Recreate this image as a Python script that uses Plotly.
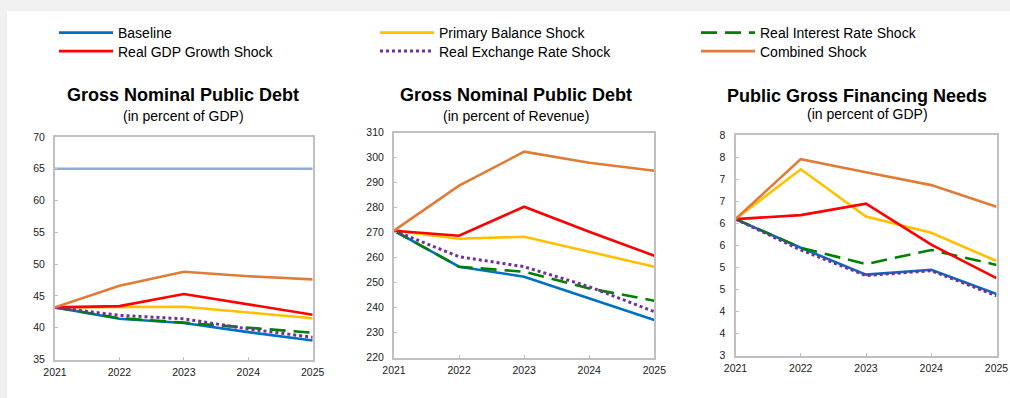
import plotly.graph_objects as go

years = [2021, 2022, 2023, 2024, 2025]

series_names = ["Baseline", "Primary Balance Shock", "Real Interest Rate Shock",
                "Real GDP Growth Shock", "Real Exchange Rate Shock", "Combined Shock"]

# Panel 1: Gross nominal public debt, percent of GDP
debt_gdp_baseline = [43.2, 41.4, 40.75, 39.3, 38.0]
debt_gdp_primary = [43.2, 43.2, 43.3, 42.4, 41.5]
debt_gdp_interest = [43.2, 41.5, 40.8, 40.0, 39.2]
debt_gdp_growth = [43.2, 43.4, 45.3, 43.7, 42.05]
debt_gdp_exchange = [43.2, 41.95, 41.4, 39.8, 38.5]
debt_gdp_combined = [43.2, 46.6, 48.8, 48.1, 47.6]
debt_gdp_benchmark = [65, 65, 65, 65, 65]

# Panel 2: Gross nominal public debt, percent of revenue
debt_rev_baseline = [270.8, 256.4, 252.4, 243.7, 235.1]
debt_rev_primary = [270.8, 267.6, 268.4, 262.4, 256.4]
debt_rev_interest = [270.8, 256.4, 254.4, 247.7, 242.8]
debt_rev_growth = [270.8, 268.8, 280.4, 270.4, 260.8]
debt_rev_exchange = [270.8, 260.4, 256.4, 248.4, 238.4]
debt_rev_combined = [270.8, 288.8, 302.4, 298.0, 294.8]

# Panel 3: Public gross financing needs, percent of GDP
gfn_baseline = [6.10, 5.45, 4.84, 4.95, 4.40]
gfn_primary = [6.10, 7.23, 6.16, 5.79, 5.15]
gfn_interest = [6.10, 5.45, 5.08, 5.40, 5.06]
gfn_growth = [6.10, 6.19, 6.45, 5.52, 4.76]
gfn_exchange = [6.10, 5.40, 4.82, 4.93, 4.36]
gfn_combined = [6.10, 7.46, 7.16, 6.87, 6.38]

gfn_tickvals = [3, 3.5, 4, 4.5, 5, 5.5, 6, 6.5, 7, 7.5, 8]
gfn_ticktext = ["3", "4", "4", "5", "5", "6", "6", "7", "7", "8", "8"]

panel_titles = ["Gross Nominal Public Debt", "Gross Nominal Public Debt", "Public Gross Financing Needs"]
panel_subtitles = ["(in percent of GDP)", "(in percent of Revenue)", "(in percent of GDP)"]

FONT = "Liberation Sans, Arial, sans-serif"

styles = {
    "Baseline": dict(color="#0070C0", dash="solid", width=2.6),
    "Primary Balance Shock": dict(color="#FFC000", dash="solid", width=2.6),
    "Real Interest Rate Shock": dict(color="#008000", dash="16px,8px", width=2.6),
    "Real GDP Growth Shock": dict(color="#FF0000", dash="solid", width=2.6),
    "Real Exchange Rate Shock": dict(color="#7030A0", dash="dot", width=3),
    "Combined Shock": dict(color="#E07C35", dash="solid", width=2.6),
}
# each legend entry sits in its own legend box so it can be placed exactly
legend_of = {
    "Baseline": "legend", "Real GDP Growth Shock": "legend2",
    "Primary Balance Shock": "legend3", "Real Exchange Rate Shock": "legend4",
    "Real Interest Rate Shock": "legend5", "Combined Shock": "legend6",
}
legend_xy = {
    "legend": (54, 17), "legend2": (54, 35.5),
    "legend3": (375, 17), "legend4": (375, 35.5),
    "legend5": (696, 17), "legend6": (696, 35.5),
}

panels = [
    ("x", "y", [debt_gdp_baseline, debt_gdp_primary, debt_gdp_interest, debt_gdp_growth, debt_gdp_exchange, debt_gdp_combined]),
    ("x2", "y2", [debt_rev_baseline, debt_rev_primary, debt_rev_interest, debt_rev_growth, debt_rev_exchange, debt_rev_combined]),
    ("x3", "y3", [gfn_baseline, gfn_primary, gfn_interest, gfn_growth, gfn_exchange, gfn_combined]),
]

fig = go.Figure()

# benchmark line in first panel
fig.add_trace(go.Scatter(x=years, y=debt_gdp_benchmark, mode="lines", xaxis="x", yaxis="y",
                         line=dict(color="#8EA9DB", width=2.6), showlegend=False, hoverinfo="skip"))

for pi, (xa, ya, data) in enumerate(panels):
    for name, vals in zip(series_names, data):
        st = styles[name]
        fig.add_trace(go.Scatter(
            x=years, y=vals, mode="lines", name=name, xaxis=xa, yaxis=ya,
            line=dict(color=st["color"], dash=st["dash"], width=st["width"]),
            showlegend=(pi == 0), legend=legend_of[name],
        ))

W, H = 1010, 398
def fx(px):
    return px / W
def fy(py):
    return 1 - py / H

domains = [
    ((55, 312.7), (137, 359.5)),
    ((394, 654.3), (132.7, 357.7)),
    ((735.5, 996.5), (135.3, 355.8)),
]
yranges = [[35, 70], [220, 310], [3, 8]]

axis_common = dict(showline=True, mirror=True, linecolor="#C0C0C0", linewidth=2,
                   ticks="inside", ticklen=3, tickcolor="#C0C0C0", showgrid=False,
                   zeroline=False, automargin=False,
                   tickfont=dict(family=FONT, size=10.5, color="#222222"))

layout = dict(
    width=W, height=H, margin=dict(l=0, r=0, t=0, b=0, pad=0, autoexpand=False),
    paper_bgcolor="#F0F0F0", plot_bgcolor="white",
    font=dict(family=FONT, color="black"),
    showlegend=True,
)
for i, ((x0, x1), (y0, y1)) in enumerate(domains):
    sx = "" if i == 0 else str(i + 1)
    layout["xaxis" + sx] = dict(domain=[fx(x0), fx(x1)], range=[2021, 2025], tickvals=years,
                                anchor="y" + sx, ticklabelstandoff=2, **axis_common)
    yd = dict(domain=[fy(y1), fy(y0)], range=yranges[i], anchor="x" + sx,
              ticklabelstandoff=6, **axis_common)
    if i == 2:
        yd["tickvals"] = gfn_tickvals
        yd["ticktext"] = gfn_ticktext
    else:
        yd["dtick"] = 5 if i == 0 else 10
    layout["yaxis" + sx] = yd

leg_common = dict(orientation="v", xanchor="left", yanchor="top", bgcolor="rgba(0,0,0,0)",
                  font=dict(family=FONT, size=14, color="black"), itemwidth=54)
for lg, (lx, ly) in legend_xy.items():
    layout[lg] = dict(x=fx(lx), y=fy(ly), **leg_common)

fig.update_layout(**layout)

# white page area
fig.add_shape(type="rect", xref="paper", yref="paper", x0=fx(7), x1=1, y0=0, y1=fy(11),
              fillcolor="white", line=dict(width=0), layer="below")

title_pos = [(183, 95, 183, 116), (516, 95, 516, 116), (857, 96, 867, 114)]
for (tx, ty, sx_, sy_), t, s in zip(title_pos, panel_titles, panel_subtitles):
    fig.add_annotation(x=fx(tx), y=fy(ty), xref="paper", yref="paper", text="<b>" + t + "</b>",
                       showarrow=False, xanchor="center", yanchor="middle",
                       font=dict(family=FONT, size=18, color="black"))
    fig.add_annotation(x=fx(sx_), y=fy(sy_), xref="paper", yref="paper", text=s,
                       showarrow=False, xanchor="center", yanchor="middle",
                       font=dict(family=FONT, size=14, color="black"))

fig.write_html("out.html", config={"displayModeBar": False},
               post_script="document.body.style.margin='0';document.body.style.overflow='hidden';")
